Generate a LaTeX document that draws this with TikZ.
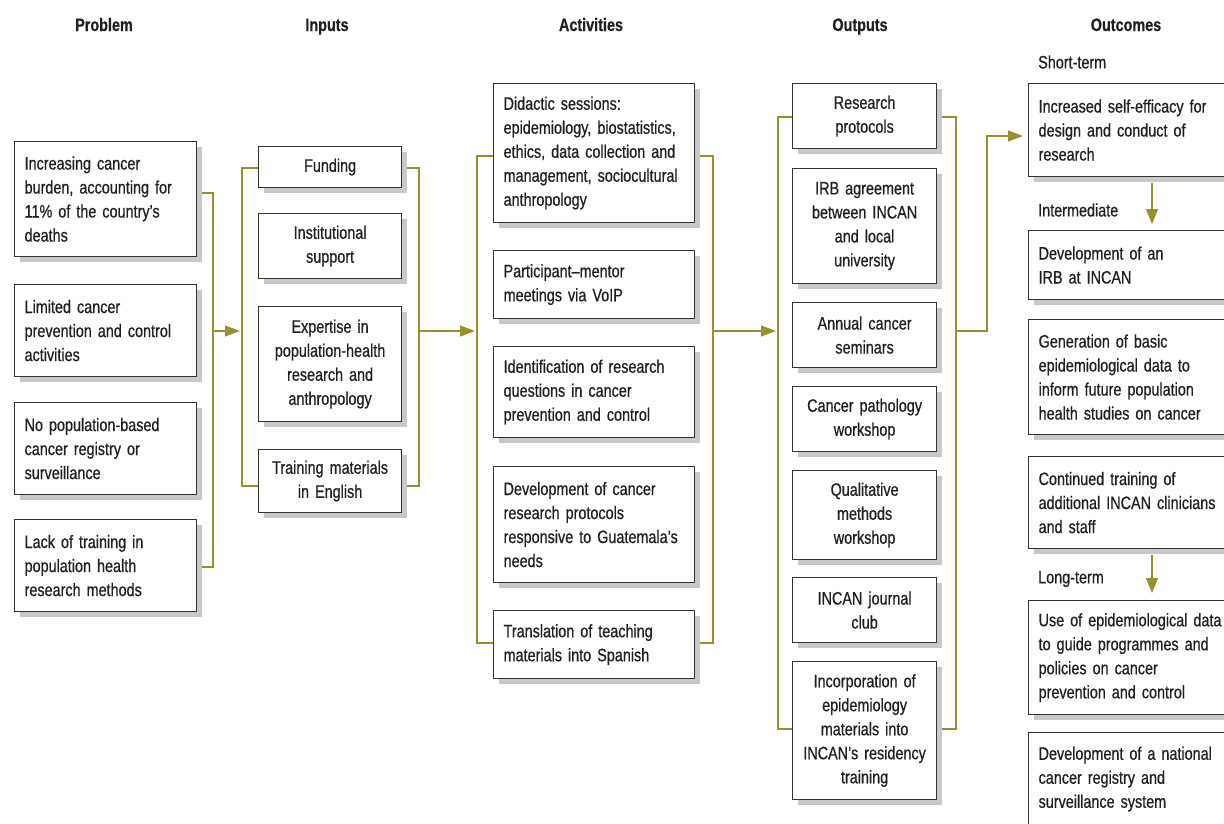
\documentclass[tikz,border=0pt]{standalone}
\usepackage{fontspec}
\setmainfont{Liberation Sans}[FakeStretch=0.80,FakeBold=0.6]
\usetikzlibrary{arrows.meta,shadows,backgrounds,calc}
\definecolor{olv}{RGB}{150,144,46}
\definecolor{shd}{RGB}{200,200,202}
\definecolor{bdr}{RGB}{51,51,51}
\definecolor{txt}{RGB}{35,31,32}
\begin{document}
\begin{tikzpicture}[x=1pt,y=-1pt,
  every node/.style={font=\fontsize{18}{24}\selectfont, text=txt},
  box/.style={draw=bdr, line width=1.2pt, fill=white, anchor=north west,
    inner xsep=10pt, inner ysep=0pt,
    drop shadow={shadow xshift=5pt, shadow yshift=-5pt, fill=shd, opacity=1}},
  pbox/.style={box, text width=162pt, align=left},
  ibox/.style={box, text width=123pt, align=center},
  abox/.style={box, text width=181pt, align=left},
  obox/.style={box, text width=124pt, align=center},
  cbox/.style={box, text width=210pt, align=left},
  hdr/.style={font=\fontsize{18}{24}\selectfont\bfseries, inner sep=0pt, anchor=base},
  lbl/.style={anchor=west, inner sep=0pt},
  conn/.style={draw=olv, line width=1.3pt},
  arr/.style={conn, -{Triangle[length=15pt,width=11pt]}}
]
\useasboundingbox (0,0) rectangle (1224,823);

% headers
\node[hdr] (h1) at (104,31) {Problem};
\node[hdr] (h2) at (327,31) {Inputs};
\node[hdr] (h3) at (591,31) {Activities};
\node[hdr] (h4) at (860,31) {Outputs};
\node[hdr] (h5) at (1126,31) {Outcomes};

% Problem
\node[pbox, minimum height=115pt] (P1) at (14,141) {Increasing cancer\\burden, accounting for\\11\% of the country’s\\deaths};
\node[pbox, minimum height=92pt] (P2) at (14,284) {Limited cancer\\prevention and control\\activities};
\node[pbox, minimum height=92pt] (P3) at (14,402) {No population-based\\cancer registry or\\surveillance};
\node[pbox, minimum height=92pt] (P4) at (14,519) {Lack of training in\\population health\\research methods};

% Inputs
\node[ibox, minimum height=41pt] (I1) at (258,146) {Funding};
\node[ibox, minimum height=65pt] (I2) at (258,213) {Institutional\\support};
\node[ibox, minimum height=115pt] (I3) at (258,306) {Expertise in\\population-health\\research and\\anthropology};
\node[ibox, minimum height=63pt] (I4) at (258,449) {Training materials\\in English};

% Activities
\node[abox, minimum height=139pt] (A1) at (493,83) {Didactic sessions:\\epidemiology, biostatistics,\\ethics, data collection and\\management, sociocultural\\anthropology};
\node[abox, minimum height=68pt] (A2) at (493,250) {Participant–mentor\\meetings via VoIP};
\node[abox, minimum height=91pt] (A3) at (493,346) {Identification of research\\questions in cancer\\prevention and control};
\node[abox, minimum height=116pt] (A4) at (493,466) {Development of cancer\\research protocols\\responsive to Guatemala’s\\needs};
\node[abox, minimum height=68pt] (A5) at (493,610) {Translation of teaching\\materials into Spanish};

% Outputs
\node[obox, minimum height=65pt] (O1) at (792,83) {Research\\protocols};
\node[obox, minimum height=115pt] (O2) at (792,168) {IRB agreement\\between INCAN\\and local\\university};
\node[obox, minimum height=65pt] (O3) at (792,302) {Annual cancer\\seminars};
\node[obox, minimum height=65pt] (O4) at (792,386) {Cancer pathology\\workshop};
\node[obox, minimum height=89pt] (O5) at (792,470) {Qualitative\\methods\\workshop};
\node[obox, minimum height=65pt] (O6) at (792,577) {INCAN journal\\club};
\node[obox, minimum height=138pt] (O7) at (792,661) {Incorporation of\\epidemiology\\materials into\\INCAN’s residency\\training};

% Outcomes
\node[lbl] (L1) at (1038,62) {Short-term};
\node[lbl] (L2) at (1038,210) {Intermediate};
\node[lbl] (L3) at (1038,579) {Long-term};
\node[cbox, minimum height=93pt] (C1) at (1028,83) {Increased self-efficacy for\\design and conduct of\\research};
\node[cbox, minimum height=69pt] (C2) at (1028,230) {Development of an\\IRB at INCAN};
\node[cbox, minimum height=115pt] (C3) at (1028,319) {Generation of basic\\epidemiological data to\\inform future population\\health studies on cancer};
\node[cbox, minimum height=92pt] (C4) at (1028,456) {Continued training of\\additional INCAN clinicians\\and staff};
\node[cbox, minimum height=114pt] (C5) at (1028,600) {Use of epidemiological data\\to guide programmes and\\policies on cancer\\prevention and control};
\node[cbox, minimum height=93pt] (C6) at (1028,732) {Development of a national\\cancer registry and\\surveillance system};

% bracket coordinates
\coordinate (pbT) at (213,193);
\coordinate (pbB) at (213,567);
\coordinate (pbM) at (213,331);
\coordinate (ilT) at (242,168);
\coordinate (ilB) at (242,486);
\coordinate (ilM) at (240,331);
\coordinate (irT) at (419,168);
\coordinate (irB) at (419,486);
\coordinate (irM) at (419,331);
\coordinate (alT) at (477,156);
\coordinate (alB) at (477,643);
\coordinate (alM) at (475,331);
\coordinate (arT) at (713,156);
\coordinate (arB) at (713,643);
\coordinate (arM) at (713,331);
\coordinate (olT) at (778,117);
\coordinate (olB) at (778,729);
\coordinate (olM) at (776,331);
\coordinate (orT) at (956,117);
\coordinate (orB) at (956,729);
\coordinate (orM) at (956,331);
\coordinate (orE) at (987,331);
\coordinate (c1in) at (1023,136);
\coordinate (xd) at (1152,0);

\begin{scope}[on background layer]
\draw[conn] (P1.east |- pbT) -- (pbT) -- (pbB) -- (P4.east |- pbB);
\draw[conn] (I1.west |- ilT) -- (ilT) -- (ilB) -- (I4.west |- ilB);
\draw[conn] (I1.east |- irT) -- (irT) -- (irB) -- (I4.east |- irB);
\draw[conn] (A1.west |- alT) -- (alT) -- (alB) -- (A5.west |- alB);
\draw[conn] (A1.east |- arT) -- (arT) -- (arB) -- (A5.east |- arB);
\draw[conn] (O1.west |- olT) -- (olT) -- (olB) -- (O7.west |- olB);
\draw[conn] (O1.east |- orT) -- (orT) -- (orB) -- (O7.east |- orB);
\end{scope}

\draw[arr] (pbM) -- (ilM);
\draw[arr] (irM) -- (alM);
\draw[arr] (arM) -- (olM);
\draw[arr] (orM) -- (orE) |- (c1in);
\draw[arr, -{Triangle[length=15pt,width=12pt]}] ($(C1.south -| xd)+(0,6)$) -- ($(C2.north -| xd)+(0,-6)$);
\draw[arr, -{Triangle[length=15pt,width=12pt]}] ($(C4.south -| xd)+(0,6)$) -- ($(C5.north -| xd)+(0,-7)$);
\end{tikzpicture}
\end{document}
